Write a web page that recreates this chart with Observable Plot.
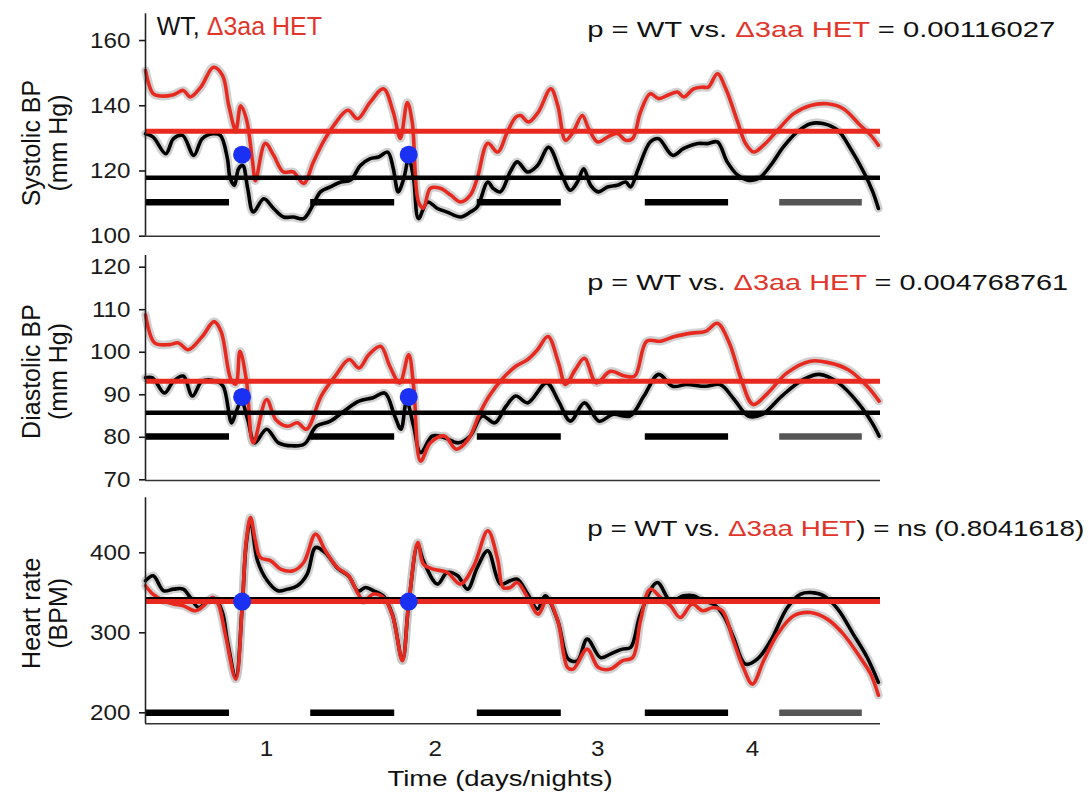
<!DOCTYPE html>
<html>
<head>
<meta charset="utf-8">
<script src="https://cdn.jsdelivr.net/npm/d3@7"></script>
<script src="https://cdn.jsdelivr.net/npm/@observablehq/plot@0.6"></script>
<style>
  html, body { margin: 0; padding: 0; background: #fff; }
  #chart { position: relative; width: 1089px; height: 802px; font-family: "Liberation Sans", Arial, Helvetica, sans-serif; }
  #chart svg { position: absolute; left: 0; overflow: visible; }
</style>
</head>
<body>
<div id="chart"></div>
<script>
// ---------------- DATA ----------------
// time in hours from start of recording
const timeDomain = [0, 105];
const dayTicks = [17.3, 41.4, 64.6, 86.7];
const dayLabels = ["1", "2", "3", "4"];
const nights = [[0, 12], [23.6, 35.6], [47.4, 59.4], [71.4, 83.3], [90.6, 102.4]];
const nightShades = ["#000000", "#000000", "#000000", "#000000", "#555555"];
const markerTimes = [13.8, 37.6];

const groups = ["WT", "Δ3aa HET"];

// Systolic BP (mm Hg)
const systolicWT = [[0,131.4],[1.1,130.4],[2.9,125.3],[4,129.9],[5.3,130.9],[6.9,124.8],[8.1,129.9],[9.6,131.4],[10.7,130.9],[11.7,123.8],[12.1,117.7],[12.7,115.6],[13.3,120.7],[13.9,121.7],[14.6,114.6],[15.4,107.4],[16.9,111.5],[18.3,108.5],[19.7,105.9],[21.1,105.9],[22.6,105.4],[23.9,109.5],[25,113.6],[26.4,115.1],[27.9,116.6],[29.3,117.2],[30.7,121.7],[32.1,123.8],[33.3,124.3],[34.6,125.8],[35.4,120.7],[36.1,113.6],[36.9,117.7],[37.6,123.8],[38.3,117.7],[39,105.4],[40.3,110.5],[41.7,108.5],[43.1,107.4],[45,105.9],[46.4,107.4],[47.4,109],[48.9,116.6],[49.7,114.6],[50.7,113.6],[52.1,119.7],[53.1,122.8],[54.6,119.7],[56,121.7],[57.6,127.3],[59.3,119.7],[60.7,114.1],[61.7,116.6],[62.6,120.7],[63.6,115.6],[64.7,113.6],[66,115.1],[67.4,115.6],[68.6,116.6],[69.3,115.1],[70.4,120.7],[72.1,128.9],[73.3,129.9],[75.3,124.8],[76.9,126.9],[78.9,128.4],[80.3,128.4],[81.7,128.9],[83.1,122.8],[84.6,118.7],[86,117.2],[87.6,117.7],[89.3,121.7],[91.1,127.3],[93.1,132],[95,134.5],[96.9,134.5],[98.9,132.5],[100.7,126.9],[102.6,119.7],[103.9,113.6],[104.7,108.5]];
const systolicHET = [[0,150.8],[1.1,143.7],[2.1,143],[4,143.4],[5.4,144.7],[6.4,142.7],[7.9,145.7],[9.7,151.8],[11,149.3],[11.9,140],[12.9,132.5],[13.6,140],[14.4,136],[15.3,122.8],[15.7,117],[17.1,128.5],[18.3,124.8],[19.7,119.7],[21.1,119.7],[22.6,116.2],[24,122.8],[25.4,128.9],[26.9,134],[28.9,138.6],[30.3,136],[32.1,141.1],[34,145.2],[35.4,138],[36.4,130],[37.4,141],[38.1,135],[39,110.5],[39.7,108.6],[40.7,114.7],[42.1,114.7],[43.6,112.6],[45,110.5],[46.4,112.6],[47.4,117.8],[48.9,128.5],[50.3,125.8],[51.7,132],[52.9,136.5],[53.6,137],[54.7,135],[56.1,138],[57.9,145.2],[58.9,140],[60,129.4],[61.1,132],[62.4,137],[63.3,133],[64.6,128.9],[66,130.4],[67.4,131.5],[68.6,129.4],[69.6,130],[70.7,138],[72.1,143.7],[73.3,142.2],[74.6,143.2],[76,144.2],[76.9,142.7],[78.3,145.2],[79.6,145.7],[80.4,145.7],[81.7,149.8],[82.9,145.2],[84.6,135],[85.7,128.5],[86.9,125.8],[88.3,127.9],[90.3,132.5],[92.6,137.6],[95,140.1],[97.4,140.6],[99.7,139.1],[102.1,134],[103.6,131],[104.7,127.9]];
const systolicMeans = [117.9, 132.2];      // WT, HET
const systolicNightLevel = 110.4;
const systolicMarkerLevel = 125;

// Diastolic BP (mm Hg)
const diastolicWT = [[0,94],[1,94],[2.7,90.4],[4,93.2],[5.4,94.4],[6.7,89.7],[8.1,93.2],[10.1,93.2],[11.1,92],[12.3,83.4],[12.9,85.8],[13.7,88.5],[14.6,84.2],[15.6,78.7],[17.3,81.9],[19,78.7],[21,78],[22.7,78.4],[24.4,82.6],[26.4,83.8],[28.4,86.2],[30.5,88.5],[32.5,89.3],[34.2,90.4],[35.6,85],[36.5,81.9],[37.3,88.5],[38.3,82.6],[39.3,76.4],[41,80.3],[42.7,79.9],[44.7,78.7],[46.4,80.3],[48.1,85],[49.9,83.4],[51.5,87.3],[52.9,89.7],[54.6,88.1],[57.3,92.8],[59,88.5],[60.7,83.8],[62.7,88.1],[64.8,83.8],[66.8,85.4],[69.2,85],[71.2,89.7],[73.3,94.8],[75.3,92],[77.3,92.4],[80,92],[82.1,92.4],[84.1,88.9],[86.1,85],[88.1,85.4],[90.9,89.7],[94,93.6],[96.3,94.8],[99,92.8],[101.8,88.1],[103.8,83.4],[104.8,80.3]];
const diastolicHET = [[0,108.8],[1.3,102.2],[3.4,101.8],[4.7,102.2],[6.1,100.6],[8.1,103.7],[9.8,107.2],[10.8,104.9],[12.2,93.6],[12.9,92.5],[13.5,100.2],[14.4,93.6],[15.4,78.7],[17.3,88.9],[18.6,84.2],[20.3,82.6],[21.7,83.4],[23,81.9],[25.1,89.7],[27.1,94.4],[29.1,98.3],[30.5,96.3],[31.9,99.4],[33.6,101.4],[34.9,96.7],[36.3,92.8],[37.6,99.4],[38.3,92],[39.3,74.4],[40.7,78.7],[42.7,80.3],[44.4,77.2],[46.1,79.5],[47.8,85.8],[49.1,89.7],[50.9,93.6],[52.9,96.7],[54.6,98.3],[56,100.6],[57.5,103.7],[59,97.5],[60,92.4],[61.4,95.9],[62.7,98.6],[64.4,92.8],[66.4,95.5],[68.5,94.4],[69.9,94.4],[71.6,102.6],[73.6,102.6],[75.6,103.7],[78,104.5],[80,104.9],[81.7,106.8],[83.4,102.2],[85.1,93.6],[86.8,87.7],[88.9,90.4],[91.6,95.1],[95,97.9],[97.7,97.5],[100.4,95.9],[103.1,92],[104.8,88.5]];
const diastolicMeans = [85.8, 93.2];
const diastolicNightLevel = 80.2;
const diastolicMarkerLevel = 89.5;

// Heart rate (BPM)
const heartWT = [[0,365],[1.1,371.3],[2.6,352.5],[4,354.6],[5.4,354.6],[6.4,344.1],[7.6,331.6],[8.9,340],[10,342.1],[11,325],[11.7,290],[12.9,245],[13.8,331],[14.4,412],[15,440],[16,390],[17.4,365],[18.9,352.5],[20.3,354.6],[21.7,358.8],[23.1,373.4],[24.3,406.6],[25.7,400],[27.4,381],[29,371],[30.4,352],[31.4,356.6],[32.6,352.5],[34,346],[35.3,322],[36.7,266],[37.6,336],[38.9,410],[39.7,390],[41.7,360.9],[43.1,375.4],[44.6,371.3],[46,354.6],[47.4,381.6],[48.9,402.5],[50.7,360.9],[52.1,365],[53.1,367.1],[54.6,348.4],[56,329.6],[57.1,346.3],[58.9,315],[60.4,267.1],[61.7,265],[63.1,292.1],[65,269.1],[66.4,273.4],[68.1,279.6],[69.3,281.6],[70.7,323.4],[73.1,362.9],[75,340],[76.9,346.3],[78.3,346.3],[79.7,340],[81.1,335.9],[82.6,321.3],[84,294.1],[85.7,260.9],[87.4,267.1],[89.3,290],[91.7,331.6],[93.6,348.4],[95,350.4],[96.9,346.3],[98.9,329.6],[101.1,298.4],[103.1,269.1],[104.7,238]];
const heartHET = [[0,358.8],[1.1,348],[2.6,340],[4,335.9],[5.4,333.8],[7.1,327.5],[8.3,333.8],[9.6,344],[10.4,335.9],[11.4,298.4],[12.9,242.1],[13.8,331.6],[14.4,415],[15,444.1],[15.7,415],[16.4,394.1],[17.9,390],[19.3,379.6],[21.1,377.5],[22.6,387.9],[24.3,423.4],[25.7,402.5],[27.4,381.6],[29,371.3],[30.4,348.4],[31.1,340],[32.6,348.4],[34,344.1],[35.3,321.3],[36.7,265],[37.6,335.9],[38.9,412.9],[39.7,385.9],[41.1,379.6],[43.1,375.4],[45,360.9],[46.9,383.8],[48.9,427.5],[50.3,392.1],[51.1,356.6],[52.1,356.6],[53.1,362.9],[54.6,344.1],[56.1,323.4],[57.4,342.1],[58.9,315],[60.3,256.6],[61.1,254.6],[63.1,279.6],[64.7,256.6],[66.4,254.6],[68.1,265],[69.6,269.1],[70.7,315],[72.1,354.6],[73.6,344.1],[75,333.8],[76.4,319.1],[78.1,335.9],[79.6,327.5],[81.1,331.6],[82.4,327.5],[84,290],[85.4,256.6],[86.7,235.9],[88.3,265],[90.3,298.4],[92.6,321.3],[95,325.4],[97.4,317.1],[99.7,298.4],[102.1,269.1],[103.6,248.4],[104.7,222]];
const heartMeans = [342, 339];
const heartNightLevel = 200;
const heartMarkerLevel = 339;

const pTexts = [
  "p = WT vs. Δ3aa HET = 0.00116027",
  "p = WT vs. Δ3aa HET = 0.004768761",
  "p = WT vs. Δ3aa HET) = ns (0.8041618)"
];
const xTitle = "Time (days/nights)";

// ---------------- STYLE / LAYOUT ----------------
const WT_COLOR = "#000000";
const HET_COLOR = "#e8291f";
const HET_TEXT = "#e2352b";
const HALO = "#c2c2c2";
const BLUE = "#1a30f2";
const FONT = '"Liberation Sans", Arial, Helvetica, sans-serif';

const panels = [
  { wt: systolicWT, het: systolicHET, means: systolicMeans, night: systolicNightLevel, marker: systolicMarkerLevel,
    domain: [100, 168.2], ticks: [100, 120, 140, 160], label: "Systolic BP\n(mm Hg)",
    top: 0, height: 246, mt: 13.3, mb: 10.3, p: pTexts[0], pWidth: 468, pY: 163.1, labelDy: 18, legend: true },
  { wt: diastolicWT, het: diastolicHET, means: diastolicMeans, night: diastolicNightLevel, marker: diastolicMarkerLevel,
    domain: [69.84, 122.75], ticks: [70, 80, 90, 100, 110, 120], label: "Diastolic BP\n(mm Hg)",
    top: 246, height: 244, mt: 9, mb: 10, p: pTexts[1], pWidth: 481, pY: 116.2, labelDy: 3.5 },
  { wt: heartWT, het: heartHET, means: heartMeans, night: heartNightLevel, marker: heartMarkerLevel,
    domain: [186.25, 468.75], ticks: [200, 300, 400], label: "Heart rate\n(BPM)",
    top: 490, height: 312, mt: 7.3, mb: 78.7, p: pTexts[2], pWidth: 497, pY: 430.4, labelDy: 2.5, xAxis: true }
];

function colorize(svg) {
  const key = groups[1];
  d3.select(svg).selectAll("text").each(function () {
    if (this.querySelector("tspan")) return;
    const t = this.textContent;
    const i = t.indexOf(key);
    if (i < 0) return;
    const sel = d3.select(this).text(null).attr("xml:space", "preserve").style("white-space", "pre");
    if (i > 0) sel.append("tspan").text(t.slice(0, i));
    sel.append("tspan").attr("fill", HET_TEXT).text(key);
    if (i + key.length < t.length) sel.append("tspan").text(t.slice(i + key.length));
  });
}

// widen glyphs horizontally to match the reference's wide lettering
function stretch(svg, test, factor) {
  svg.querySelectorAll("text").forEach(t => {
    if (!test(t)) return;
    const len = t.getComputedTextLength();
    if (!(len > 0)) return;
    t.setAttribute("textLength", (len * factor).toFixed(1));
    t.setAttribute("lengthAdjust", "spacingAndGlyphs");
  });
}
function fitWidth(svg, test, width) {
  svg.querySelectorAll("text").forEach(t => {
    if (!test(t)) return;
    t.setAttribute("textLength", width);
    t.setAttribute("lengthAdjust", "spacingAndGlyphs");
  });
}

function makePanel(p) {
  const nightRows = nights.map((d, i) => ({ x1: d[0], x2: d[1], c: nightShades[i] }));
  const marks = [
    Plot.line(p.wt, { x: d => d[0], y: d => d[1], stroke: HALO, strokeWidth: 8.5, strokeOpacity: 0.75, curve: "catmull-rom" }),
    Plot.line(p.het, { x: d => d[0], y: d => d[1], stroke: HALO, strokeWidth: 8.5, strokeOpacity: 0.75, curve: "catmull-rom" }),
    Plot.line(p.wt, { x: d => d[0], y: d => d[1], stroke: WT_COLOR, strokeWidth: 3.6, curve: "catmull-rom" }),
    Plot.line(p.het, { x: d => d[0], y: d => d[1], stroke: HET_COLOR, strokeWidth: 3.6, curve: "catmull-rom" }),
    Plot.ruleY([p.means[0]], { stroke: WT_COLOR, strokeWidth: 4.5 }),
    Plot.ruleY([p.means[1]], { stroke: HET_COLOR, strokeWidth: 5 }),
    Plot.ruleY(nightRows, { y: () => p.night, x1: "x1", x2: "x2", stroke: "c", strokeWidth: 6.5 }),
    Plot.dot(markerTimes, { x: d => d, y: () => p.marker, r: 9, fill: BLUE, stroke: null }),
    Plot.ruleX([timeDomain[0]], { stroke: "#222", strokeWidth: 1.6 }),
    Plot.ruleY([p.domain[0]], { stroke: "#333", strokeWidth: 1.6 }),
    Plot.axisY(p.ticks, { tickSize: 6, tickPadding: 9, fontSize: 22, strokeWidth: 1.6, label: null, color: "#1a1a1a" }),
    Plot.text([p.label], { frameAnchor: "left", rotate: -90, textAnchor: "middle", lineAnchor: "middle",
      lineHeight: 1.1, fontSize: 25, dx: -101, dy: p.labelDy, fill: "#111" }),
    Plot.text([p.p], { x: 63.1, y: p.pY, textAnchor: "start", lineAnchor: "middle", fontSize: 22, fill: "#111" })
  ];
  if (p.legend) {
    marks.push(Plot.text([groups.join(", ")], { x: 1.6, y: 164.3, textAnchor: "start", lineAnchor: "middle", fontSize: 25, fill: "#111" }));
  }
  if (p.xAxis) {
    marks.push(Plot.axisX(dayTicks, { tickSize: 0, tickPadding: 17, fontSize: 22, label: null, color: "#1a1a1a",
      tickFormat: d => dayLabels[dayTicks.indexOf(d)] }));
    marks.push(Plot.text([xTitle], { frameAnchor: "bottom", dy: 62, dx: -13, fontSize: 22, fill: "#111" }));
  }
  const svg = Plot.plot({
    width: 1089, height: p.height,
    marginLeft: 145, marginRight: 209, marginTop: p.mt, marginBottom: p.mb,
    style: { fontFamily: FONT, background: "transparent", overflow: "visible" },
    x: { domain: timeDomain, axis: null, label: null },
    y: { domain: p.domain, axis: null, label: null },
    color: { type: "identity" },
    marks
  });
  svg.style.top = p.top + "px";
  return svg;
}

const root = document.getElementById("chart");
for (const p of panels) {
  const svg = makePanel(p);
  root.appendChild(svg);
  colorize(svg);
  fitWidth(svg, t => t.textContent === p.p, p.pWidth);
  stretch(svg, t => t.textContent === xTitle, 1.25);
  stretch(svg, t => !!t.closest('g[aria-label$="tick label"]'), 1.1);
}
</script>
</body>
</html>
